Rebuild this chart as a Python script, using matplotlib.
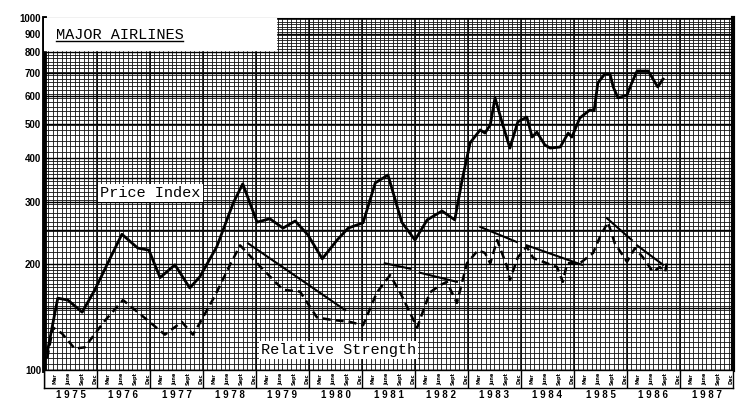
import numpy as np
import matplotlib
matplotlib.use("Agg")
import matplotlib.pyplot as plt

# price index, monthly-ish readings (decimal year, index value)
price_x = [1975.06, 1975.26, 1975.45, 1975.72, 1975.96, 1976.25, 1976.47, 1976.77, 1976.98,
           1977.19, 1977.47, 1977.75, 1977.94, 1978.26, 1978.57, 1978.75, 1979.02, 1979.26,
           1979.51, 1979.74, 1979.98, 1980.25, 1980.53, 1980.74, 1981.02, 1981.25, 1981.49,
           1981.75, 1982.00, 1982.23, 1982.51, 1982.75, 1982.89, 1983.04, 1983.23, 1983.32,
           1983.42, 1983.51, 1983.64, 1983.79, 1983.94, 1984.11, 1984.21, 1984.30, 1984.45,
           1984.55, 1984.74, 1984.89, 1984.96, 1985.11, 1985.30, 1985.38, 1985.45, 1985.58,
           1985.68, 1985.74, 1985.83, 1986.00, 1986.09, 1986.19, 1986.40, 1986.58, 1986.68]
price_y = [112, 160, 158, 146, 169, 208, 243, 222, 219,
           183, 199, 171, 184, 224, 298, 338, 263, 269,
           253, 265, 242, 207, 234, 253, 262, 340, 358,
           263, 234, 267, 283, 267, 347, 442, 481, 471,
           497, 593, 507, 427, 507, 523, 459, 474, 436,
           427, 430, 471, 459, 520, 548, 545, 654, 693,
           693, 637, 593, 604, 654, 707, 707, 637, 671]

# relative strength
rs_x = [1975.06, 1975.17, 1975.34, 1975.58, 1975.77, 1976.13, 1976.49, 1976.94, 1977.28,
        1977.60, 1977.81, 1977.94, 1978.23, 1978.51, 1978.70, 1979.02, 1979.51, 1979.83,
        1980.15, 1980.40, 1980.77, 1981.02, 1981.28, 1981.53, 1981.72, 1982.04, 1982.28,
        1982.47, 1982.60, 1982.79, 1982.98, 1983.19, 1983.32, 1983.42, 1983.55, 1983.74,
        1983.79, 1983.94, 1984.11, 1984.23, 1984.49, 1984.68, 1984.79, 1984.87, 1985.11,
        1985.36, 1985.49, 1985.64, 1985.77, 1986.00, 1986.15, 1986.30, 1986.49, 1986.62,
        1986.72, 1986.77]
rs_y = [108, 132, 127, 115, 116, 137, 158, 139, 126,
        137, 126, 136, 163, 199, 226, 201, 169, 167,
        141, 139, 137, 134, 166, 186, 166, 132, 166,
        174, 178, 155, 201, 219, 215, 201, 234, 196,
        180, 209, 224, 208, 201, 196, 178, 201, 201,
        215, 239, 263, 229, 203, 222, 209, 190, 196,
        190, 208]

# down trend lines drawn over relative strength: (x0, y0, x1, y1)
trend_lines = [(1978.85, 229, 1980.68, 148),
               (1981.43, 201, 1981.91, 194),
               (1982.09, 189, 1982.79, 178),
               (1983.23, 255, 1983.92, 231),
               (1984.11, 226, 1985.15, 199),
               (1985.62, 270, 1986.09, 234),
               (1986.19, 226, 1986.68, 199)]

years = list(range(1975, 1988))
month_labels = ["Mar", "June", "Sept", "Dec"]
y_ticks = [100, 200, 300, 400, 500, 600, 700, 800, 900, 1000]

mono = "Liberation Mono"

fig = plt.figure(figsize=(7.51, 4.08), dpi=100)
ax = fig.add_axes([44 / 751, 38 / 408, 689 / 751, 352 / 408])
ax.set_yscale("log")
ax.set_xlim(1975, 1988)
ax.set_ylim(100, 1000)

# chart-paper grid
for m in np.arange(1975, 1988, 1 / 12):
    ax.axvline(m, color="#111111", lw=0.6, zorder=1)
for yr in years:
    ax.axvline(yr, color="black", lw=1.1, zorder=1)
hlines = list(np.arange(100, 200, 4)) + list(np.arange(200, 400, 8)) + list(np.arange(400, 1000, 16))
for h in hlines:
    ax.axhline(h, color="#111111", lw=0.6, zorder=1)
for h in y_ticks + [150, 250, 350]:
    ax.axhline(h, color="black", lw=1.0, zorder=1)

ax.plot(price_x, price_y, color="black", lw=2.0, zorder=4, solid_joinstyle="round")
ax.plot(rs_x, rs_y, color="black", lw=1.8, ls=(0, (3.2, 2.0)), zorder=4)
for x0, y0, x1, y1 in trend_lines:
    ax.plot([x0, x1], [y0, y1], color="black", lw=1.5, zorder=4)

# title box
ax.fill_between([1975, 1979.38], 810, 1000, color="white", zorder=3)
title = ax.text(1975.22, 895, "MAJOR AIRLINES", family=mono, fontsize=11,
                ha="left", va="center", zorder=5)
ax.text(1976.06, 318, "Price Index", family=mono, fontsize=11, ha="left", va="center",
        zorder=5, bbox=dict(facecolor="white", edgecolor="none", pad=1.5))
ax.text(1979.09, 114, "Relative Strength", family=mono, fontsize=11, ha="left", va="center",
        zorder=5, bbox=dict(facecolor="white", edgecolor="none", pad=1.5))

ax.set_yticks(y_ticks)
ax.set_yticklabels([str(v) for v in y_ticks], fontweight="bold", fontsize=7,
                   family="Liberation Sans")
ax.yaxis.set_minor_locator(matplotlib.ticker.NullLocator())
ax.tick_params(axis="y", length=0, pad=2)
ax.set_xticks([])
ax.spines["left"].set_linewidth(3.5)
ax.spines["right"].set_linewidth(3)
ax.spines["top"].set_linewidth(0.8)
ax.spines["bottom"].set_linewidth(1.0)

# month strip below the chart
ax2 = fig.add_axes([44 / 751, 20 / 408, 689 / 751, 18 / 408])
ax2.set_xlim(1975, 1988)
ax2.set_ylim(0, 1)
ax2.set_xticks([])
ax2.set_yticks([])
for s in ax2.spines.values():
    s.set_linewidth(1.0)
for yr in years:
    ax2.axvline(yr, color="black", lw=1.0)
    for i, lab in enumerate(month_labels):
        ax2.text(yr + 0.21 + i * 0.25, 0.5, lab, rotation=90, fontsize=3.6,
                 fontweight="bold", ha="center", va="center")
    ax2.text(yr + 0.5, -0.4, " ".join(str(yr)), fontsize=7, fontweight="bold",
             family="Liberation Sans", ha="center", va="center", clip_on=False)

# underline the title
fig.canvas.draw()
bb = title.get_window_extent()
inv = fig.transFigure.inverted()
(x0, y0), (x1, y1) = inv.transform([(bb.x0, bb.y0), (bb.x1, bb.y1)])
fig.add_artist(matplotlib.lines.Line2D([x0, x1], [y0 + 0.002, y0 + 0.002],
                                       color="black", lw=1.0, zorder=6))

fig.savefig("out.png", dpi=100)
